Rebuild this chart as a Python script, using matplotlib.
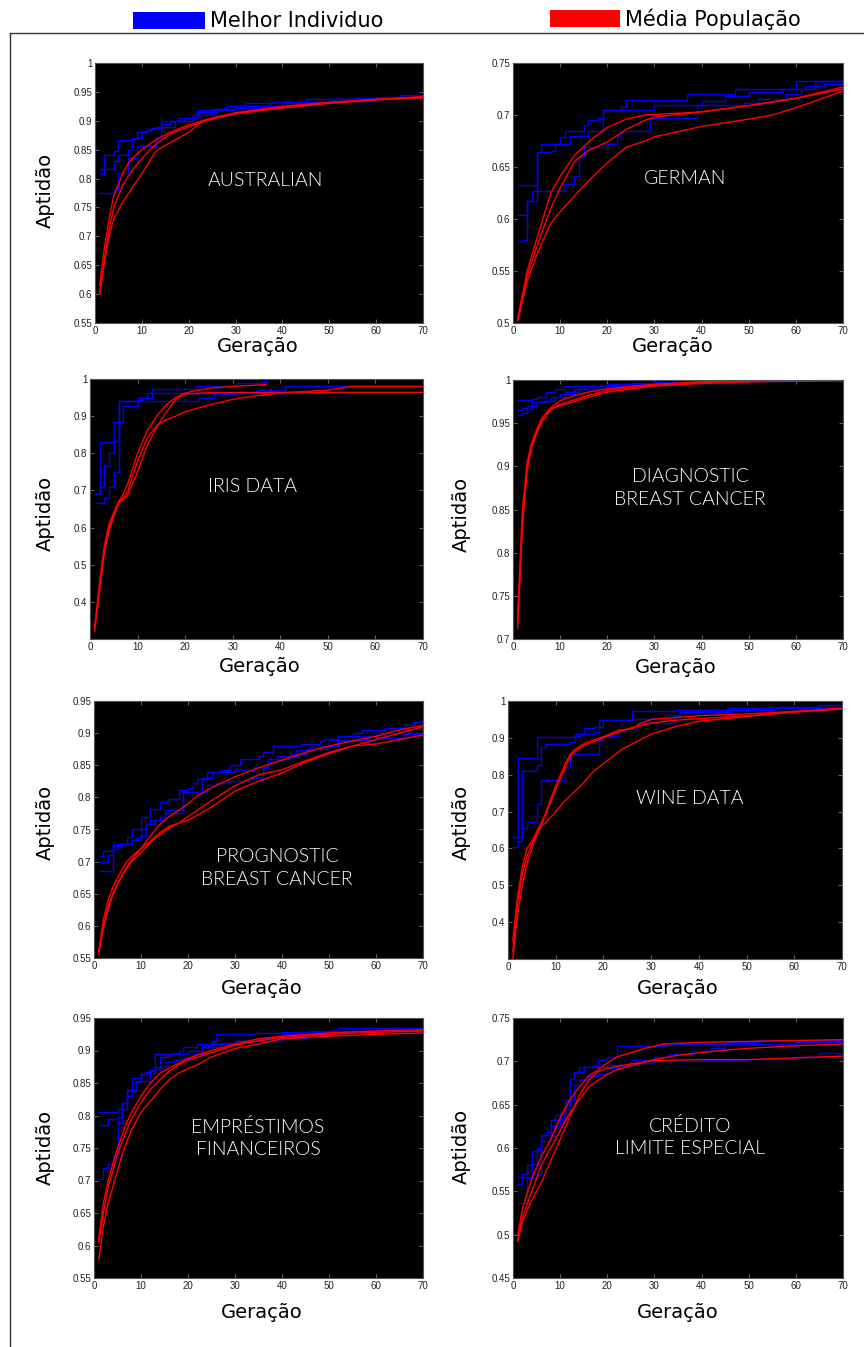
import matplotlib
matplotlib.use("Agg")
import matplotlib.pyplot as plt
from matplotlib.patches import Rectangle
from matplotlib.lines import Line2D
from matplotlib.ticker import FuncFormatter

W, H = 864, 1347

# ---- dados: (geração, aptidão) ----
# AUSTRALIAN
aus_best = [
    [(1, .816), (2, .84), (4, .848), (5, .867), (8, .869), (9, .88), (11, .885), (13, .89), (14, .90),
     (18, .905), (21, .91), (22, .918), (25, .921), (28, .925), (32, .93), (38, .933), (45, .937), (55, .94), (65, .945), (70, .946)],
    [(1, .808), (2, .816), (4, .83), (5, .84), (7, .85), (8, .87), (10, .883), (12, .887), (14, .895),
     (16, .90), (19, .905), (22, .915), (26, .92), (30, .925), (40, .932), (50, .937), (60, .942), (70, .944)],
    [(1, .775), (4, .78), (5, .81), (7, .835), (9, .857), (13, .87), (14, .89), (17, .90), (21, .91),
     (25, .918), (30, .922), (40, .93), (50, .935), (60, .94), (70, .943)],
]
aus_media = [
    [(1, .615), (2, .68), (3, .73), (4, .77), (5, .79), (6, .81), (7, .825), (8, .835), (10, .85), (13, .867),
     (16, .88), (20, .893), (25, .905), (30, .914), (40, .925), (50, .932), (60, .937), (70, .942)],
    [(1, .60), (2, .66), (3, .71), (4, .75), (5, .77), (6, .79), (8, .815), (10, .835), (13, .86), (16, .877),
     (20, .89), (25, .903), (30, .913), (40, .924), (50, .931), (60, .937), (70, .94)],
    [(1, .60), (2, .655), (3, .70), (4, .73), (5, .745), (6, .76), (8, .785), (10, .808), (13, .848), (16, .862),
     (20, .88), (23, .90), (26, .905), (30, .912), (40, .922), (50, .93), (60, .936), (70, .94)],
]

# GERMAN
ger_best = [
    [(1, .633), (5, .664), (6, .672), (10, .679), (11, .685), (15, .69), (16, .695), (18, .697), (19, .705),
     (23, .708), (24, .714), (37, .72), (47, .725), (60, .733), (70, .735)],
    [(1, .604), (3, .617), (4, .627), (11, .634), (13, .641), (14, .66), (15, .669), (20, .672), (22, .68),
     (23, .685), (29, .697), (39, .71), (49, .712), (52, .715), (58, .72), (61, .725), (64, .733), (70, .735)],
    [(1, .579), (2, .58), (3, .617), (5, .664), (8, .665), (9, .672), (12, .68), (16, .685), (19, .705),
     (30, .71), (40, .713), (45, .718), (50, .722), (57, .725), (62, .728), (66, .73), (70, .733)],
]
ger_media = [
    [(1, .505), (3, .55), (5, .58), (8, .625), (10, .641), (13, .661), (17, .678), (20, .688), (24, .696),
     (28, .70), (40, .703), (50, .709), (60, .716), (70, .725)],
    [(1, .503), (3, .545), (5, .573), (8, .61), (10, .63), (13, .655), (16, .666), (20, .674), (24, .686),
     (28, .695), (30, .698), (40, .703), (50, .709), (60, .716), (70, .727)],
    [(1, .502), (3, .54), (5, .565), (8, .596), (10, .607), (13, .622), (15, .632), (20, .654), (24, .669),
     (28, .675), (30, .679), (40, .689), (50, .696), (55, .70), (60, .707), (65, .715), (70, .723)],
]

# IRIS DATA
iris_best = [
    [(1, .69), (2, .83), (5, .885), (6, .942), (10, .95), (12, .962), (13, .972), (22, .98), (25, .982),
     (30, .985), (31, .99), (36, .992), (37, 1.0)],
    [(1, .667), (3, .68), (4, .71), (5, .75), (6, .885), (7, .926), (10, .944), (11, .95), (13, .962),
     (41, .98), (70, .98)],
    [(1, .69), (2, .71), (3, .765), (4, .80), (5, .832), (6, .942), (23, .95), (26, .96), (31, .962),
     (35, .97), (41, .98), (70, .98)],
]
iris_media = [
    [(1, .33), (2, .45), (3, .55), (4, .61), (5, .64), (6, .67), (7, .69), (8, .72), (10, .80), (12, .86),
     (14, .90), (16, .93), (18, .95), (20, .962), (22, .968), (25, .975), (30, .98), (37, .985)],
    [(1, .32), (2, .43), (3, .53), (4, .59), (5, .63), (6, .665), (7, .68), (8, .70), (10, .78), (12, .84),
     (14, .875), (16, .89), (18, .90), (20, .912), (25, .93), (30, .945), (35, .955), (40, .962), (50, .97),
     (55, .98), (70, .98)],
    [(1, .335), (2, .44), (3, .54), (4, .60), (5, .64), (6, .67), (7, .675), (8, .69), (10, .75), (12, .82),
     (14, .87), (16, .91), (18, .945), (20, .96), (25, .963), (40, .964), (70, .964)],
]

# DIAGNOSTIC BREAST CANCER
diag_best = [
    [(1, .977), (4, .978), (5, .98), (7, .986), (9, .99), (11, .993), (20, .995), (30, .998), (40, 1.0), (70, 1.0)],
    [(1, .965), (2, .967), (3, .97), (5, .975), (7, .976), (9, .98), (11, .986), (14, .99), (18, .993),
     (25, .996), (40, .999), (60, 1.0), (70, 1.0)],
    [(1, .96), (2, .962), (3, .966), (4, .975), (6, .976), (8, .98), (10, .984), (13, .99), (20, .994),
     (30, .997), (50, 1.0), (70, 1.0)],
]
diag_media = [
    [(1, .712), (2, .84), (3, .90), (4, .925), (5, .94), (6, .953), (7, .962), (8, .968), (10, .976),
     (13, .982), (16, .986), (20, .99), (30, .995), (40, .998), (50, .999), (70, 1.0)],
    [(1, .72), (2, .83), (3, .895), (4, .922), (5, .938), (6, .95), (7, .958), (8, .965), (10, .972),
     (13, .977), (16, .982), (20, .988), (30, .994), (40, .997), (50, .998), (70, 1.0)],
    [(1, .73), (2, .85), (3, .905), (4, .928), (5, .942), (6, .955), (8, .967), (10, .97), (13, .975),
     (16, .98), (20, .986), (30, .993), (40, .996), (50, .998), (70, .999)],
]

# PROGNOSTIC BREAST CANCER
prog_best = [
    [(1, .708), (2, .717), (4, .727), (7, .738), (8, .75), (10, .769), (12, .782), (14, .793), (16, .797),
     (18, .812), (20, .815), (21, .823), (22, .829), (24, .84), (27, .843), (29, .85), (31, .86), (35, .865),
     (36, .87), (38, .88), (44, .883), (48, .887), (49, .891), (52, .895), (55, .90), (57, .905), (62, .908),
     (66, .912), (68, .918), (70, .92)],
    [(1, .70), (3, .71), (4, .72), (5, .727), (8, .733), (9, .736), (10, .75), (11, .758), (12, .765),
     (14, .77), (15, .78), (19, .808), (24, .82), (26, .822), (29, .826), (33, .83), (36, .845), (37, .855),
     (39, .865), (43, .873), (46, .878), (49, .88), (52, .888), (56, .89), (60, .893), (66, .898), (70, .904)],
    [(1, .686), (4, .725), (6, .728), (8, .733), (10, .74), (11, .758), (13, .765), (15, .775), (19, .808),
     (23, .83), (25, .84), (30, .842), (34, .848), (37, .86), (42, .868), (45, .875), (50, .89), (55, .895),
     (60, .90), (70, .905)],
]
prog_media = [
    [(1, .56), (2, .61), (3, .64), (4, .66), (5, .675), (6, .688), (7, .70), (8, .708), (10, .72), (12, .74),
     (14, .758), (16, .77), (18, .78), (20, .79), (22, .802), (25, .815), (30, .832), (35, .846), (40, .858),
     (45, .87), (50, .88), (55, .888), (60, .895), (65, .905), (70, .912)],
    [(1, .555), (2, .60), (3, .63), (4, .65), (5, .665), (6, .678), (7, .69), (8, .70), (10, .714), (12, .73),
     (14, .742), (16, .752), (18, .76), (20, .77), (22, .78), (25, .795), (30, .818), (35, .835), (40, .843),
     (45, .857), (50, .87), (55, .88), (60, .89), (65, .90), (70, .91)],
    [(1, .56), (2, .598), (3, .625), (4, .648), (5, .665), (6, .68), (7, .692), (8, .703), (10, .72), (12, .732),
     (14, .745), (16, .755), (18, .76), (20, .765), (22, .772), (25, .785), (28, .80), (30, .81), (35, .825),
     (40, .838), (45, .855), (50, .868), (55, .88), (60, .883), (65, .89), (70, .897)],
]

# WINE DATA
wine_best = [
    [(1, .63), (2, .845), (6, .902), (14, .91), (16, .928), (18, .93), (19, .948), (26, .972), (35, .975),
     (46, .98), (56, .985), (65, .988), (70, .988)],
    [(1, .605), (2, .62), (3, .81), (6, .825), (7, .875), (8, .883), (13, .89), (14, .905), (15, .91),
     (18, .915), (19, .93), (20, .948), (26, .952), (30, .955), (33, .962), (36, .97), (46, .975), (55, .98),
     (65, .985), (70, .985)],
    [(1, .63), (3, .655), (4, .672), (6, .72), (7, .785), (12, .82), (13, .855), (19, .895), (20, .905),
     (23, .925), (27, .94), (35, .96), (36, .97), (47, .975), (56, .98), (70, .985)],
]
wine_media = [
    [(1, .35), (2, .47), (3, .55), (4, .60), (5, .62), (6, .645), (7, .67), (8, .70), (10, .77), (12, .83),
     (13, .855), (14, .868), (16, .885), (18, .895), (20, .903), (23, .92), (26, .925), (28, .94), (30, .95),
     (35, .955), (40, .96), (50, .965), (60, .972), (70, .98)],
    [(1, .30), (2, .42), (3, .50), (4, .56), (5, .60), (6, .635), (7, .665), (8, .695), (10, .76), (12, .82),
     (13, .85), (14, .862), (16, .88), (18, .89), (20, .90), (23, .915), (26, .928), (30, .94), (35, .948),
     (40, .952), (50, .96), (60, .97), (70, .978)],
    [(1, .32), (2, .45), (3, .53), (4, .58), (5, .61), (6, .64), (7, .66), (8, .67), (10, .70), (12, .73),
     (14, .755), (16, .78), (18, .81), (20, .83), (22, .85), (24, .87), (27, .89), (30, .91), (35, .93),
     (40, .945), (50, .958), (60, .97), (70, .98)],
]

# EMPRÉSTIMOS FINANCEIROS
emp_best = [
    [(1, .805), (5, .81), (6, .82), (7, .84), (8, .858), (10, .862), (11, .867), (12, .87), (13, .895),
     (17, .896), (18, .90), (19, .905), (22, .91), (25, .915), (26, .925), (34, .927), (40, .928), (46, .93),
     (52, .935), (70, .936)],
    [(1, .785), (3, .795), (5, .798), (6, .81), (7, .83), (8, .838), (9, .853), (12, .865), (13, .872),
     (15, .882), (17, .885), (19, .888), (21, .895), (23, .907), (25, .91), (30, .915), (40, .925), (50, .93),
     (62, .935), (70, .936)],
    [(1, .703), (2, .72), (3, .725), (4, .737), (5, .79), (6, .82), (7, .84), (9, .852), (10, .865),
     (12, .868), (13, .875), (14, .89), (16, .895), (20, .90), (23, .905), (27, .912), (30, .915), (35, .92),
     (45, .928), (55, .93), (70, .932)],
]
emp_media = [
    [(1, .61), (2, .665), (3, .70), (4, .725), (5, .75), (6, .77), (7, .79), (8, .805), (10, .83), (12, .85),
     (14, .865), (16, .873), (18, .88), (20, .888), (25, .90), (30, .91), (35, .918), (40, .922), (50, .927),
     (60, .93), (70, .932)],
    [(1, .605), (2, .65), (3, .69), (4, .715), (5, .74), (6, .76), (7, .778), (8, .795), (10, .82), (12, .84),
     (14, .855), (16, .868), (18, .878), (20, .885), (25, .897), (30, .908), (35, .915), (40, .92), (50, .925),
     (60, .928), (70, .93)],
    [(1, .578), (2, .63), (3, .665), (4, .69), (5, .715), (6, .74), (7, .76), (8, .778), (10, .805), (12, .822),
     (14, .84), (16, .855), (18, .865), (20, .872), (22, .878), (25, .89), (30, .903), (35, .91), (40, .918),
     (50, .922), (60, .925), (70, .927)],
]

# CRÉDITO LIMITE ESPECIAL
cred_best = [
    [(1, .567), (5, .57), (6, .615), (8, .632), (11, .645), (12, .68), (13, .688), (15, .693), (17, .695),
     (18, .702), (20, .705), (22, .718), (32, .72), (45, .722), (52, .725), (70, .727)],
    [(1, .537), (3, .565), (4, .582), (5, .60), (6, .615), (7, .618), (8, .625), (9, .638), (10, .64),
     (11, .655), (12, .68), (13, .688), (14, .693), (20, .696), (25, .702), (30, .705), (33, .708), (38, .712),
     (42, .715), (45, .72), (60, .722), (70, .724)],
    [(1, .558), (2, .57), (3, .58), (4, .596), (5, .598), (6, .608), (8, .61), (9, .625), (10, .635),
     (11, .65), (12, .655), (13, .673), (14, .678), (16, .683), (18, .685), (20, .692), (22, .695), (25, .698),
     (30, .70), (40, .702), (50, .703), (60, .705), (65, .71), (70, .71)],
]
cred_media = [
    [(1, .50), (2, .53), (4, .565), (6, .59), (8, .61), (10, .635), (12, .655), (14, .67), (16, .683), (18, .69),
     (20, .698), (22, .705), (25, .71), (28, .715), (32, .72), (40, .722), (50, .723), (60, .724), (70, .725)],
    [(1, .494), (2, .52), (4, .55), (6, .58), (8, .60), (10, .62), (12, .64), (14, .655), (16, .67), (18, .678),
     (20, .685), (22, .69), (25, .695), (30, .702), (35, .707), (40, .71), (45, .713), (50, .715), (60, .718),
     (70, .72)],
    [(1, .492), (2, .515), (4, .54), (6, .56), (8, .585), (10, .61), (12, .635), (14, .66), (16, .678),
     (18, .688), (20, .692), (25, .697), (30, .701), (40, .702), (50, .702), (60, .704), (70, .706)],
]

titulos = ["AUSTRALIAN", "GERMAN", "IRIS DATA", "DIAGNOSTIC\nBREAST CANCER",
           "PROGNOSTIC\nBREAST CANCER", "WINE DATA", "EMPRÉSTIMOS\nFINANCEIROS", "CRÉDITO\nLIMITE ESPECIAL"]
melhores = [aus_best, ger_best, iris_best, diag_best, prog_best, wine_best, emp_best, cred_best]
medias = [aus_media, ger_media, iris_media, diag_media, prog_media, wine_media, emp_media, cred_media]
y_lims = [(0.55, 1), (0.5, 0.75), (0.3, 1), (0.7, 1), (0.55, 0.95), (0.3, 1), (0.55, 0.95), (0.45, 0.75)]
y_ticks = [
    [0.55, 0.6, 0.65, 0.7, 0.75, 0.8, 0.85, 0.9, 0.95, 1],
    [0.5, 0.55, 0.6, 0.65, 0.7, 0.75],
    [0.4, 0.5, 0.6, 0.7, 0.8, 0.9, 1],
    [0.7, 0.75, 0.8, 0.85, 0.9, 0.95, 1],
    [0.55, 0.6, 0.65, 0.7, 0.75, 0.8, 0.85, 0.9, 0.95],
    [0.4, 0.5, 0.6, 0.7, 0.8, 0.9, 1],
    [0.55, 0.6, 0.65, 0.7, 0.75, 0.8, 0.85, 0.9, 0.95],
    [0.45, 0.5, 0.55, 0.6, 0.65, 0.7, 0.75],
]

# posições em pixels: (esq, topo, dir, base)
caixas = [(95, 63, 423, 323), (513, 63, 843, 323),
          (90, 379, 423, 639), (513, 380, 843, 639),
          (94, 701, 423, 958), (508, 701, 842, 959),
          (94, 1018, 423, 1278), (513, 1018, 843, 1278)]
pos_titulo = [(265, 180), (685, 178), (253, 487), (690, 488), (277, 868), (690, 798), (258, 1138), (690, 1137)]
pos_geracao = [(258, 347), (673, 347), (260, 667), (676, 668), (262, 988), (678, 988), (262, 1312), (678, 1312)]
pos_aptidao = [(45, 190), None, (45, 513), (461, 514), (45, 822), (461, 822), (45, 1147), (461, 1146)]

fig = plt.figure(figsize=(W / 100, H / 100), dpi=100, facecolor='white')

fmt = FuncFormatter(lambda v, p: f"{v:g}")
label_font = {'family': 'DejaVu Sans', 'size': 14, 'color': 'black'}

for i in range(8):
    l, t, r, b = caixas[i]
    ax = fig.add_axes([l / W, 1 - b / H, (r - l) / W, (b - t) / H])
    ax.set_facecolor('black')
    for serie in melhores[i]:
        g, v = zip(*serie)
        ax.plot(g, v, color='#0000ff', lw=1.0, drawstyle='steps-post')
    for serie in medias[i]:
        g, v = zip(*serie)
        ax.plot(g, v, color='#ff0000', lw=1.0)
    ax.set_xlim(0, 70)
    ax.set_xticks(range(0, 71, 10))
    ax.set_ylim(*y_lims[i])
    ax.set_yticks(y_ticks[i])
    ax.yaxis.set_major_formatter(fmt)
    ax.tick_params(direction='in', length=3, width=0.6, color='#777777', labelsize=7,
                   labelcolor='#222222', top=True, right=True, pad=2)
    for lab in ax.get_xticklabels() + ax.get_yticklabels():
        lab.set_family('Liberation Sans')
    for s in ax.spines.values():
        s.set_color('#555555')
        s.set_linewidth(0.8)
    tx, ty = pos_titulo[i]
    fig.text(tx / W, 1 - ty / H, titulos[i], color='white', ha='center', va='center',
             fontsize=14, family='Lato', fontweight=300, linespacing=1.4)
    gx, gy = pos_geracao[i]
    fig.text(gx / W, 1 - gy / H, "Geração", ha='center', va='center', fontdict=label_font)
    if pos_aptidao[i] is not None:
        axx, axy = pos_aptidao[i]
        fig.text(axx / W, 1 - axy / H, "Aptidão", ha='center', va='center', rotation=90, fontdict=label_font)

# legenda
leg_font = ['Liberation Sans Narrow', 'DejaVu Sans']
fig.add_artist(Rectangle((133 / W, 1 - 29 / H), 72 / W, 17 / H, transform=fig.transFigure,
                         facecolor='#0000ff', edgecolor='none'))
fig.text(210 / W, 1 - 21 / H, "Melhor Individuo", ha='left', va='center', fontsize=15, family=leg_font)
fig.add_artist(Rectangle((550 / W, 1 - 27 / H), 70 / W, 17 / H, transform=fig.transFigure,
                         facecolor='#ff0000', edgecolor='none'))
fig.text(625 / W, 1 - 19 / H, "Média População", ha='left', va='center', fontsize=15, family=leg_font)

# moldura
fig.add_artist(Line2D([10 / W, 1], [1 - 33 / H, 1 - 33 / H], transform=fig.transFigure, color='#333333', lw=1))
fig.add_artist(Line2D([10 / W, 10 / W], [0, 1 - 33 / H], transform=fig.transFigure, color='#333333', lw=1))

fig.savefig("out.png", dpi=100, facecolor='white')
plt.close(fig)
